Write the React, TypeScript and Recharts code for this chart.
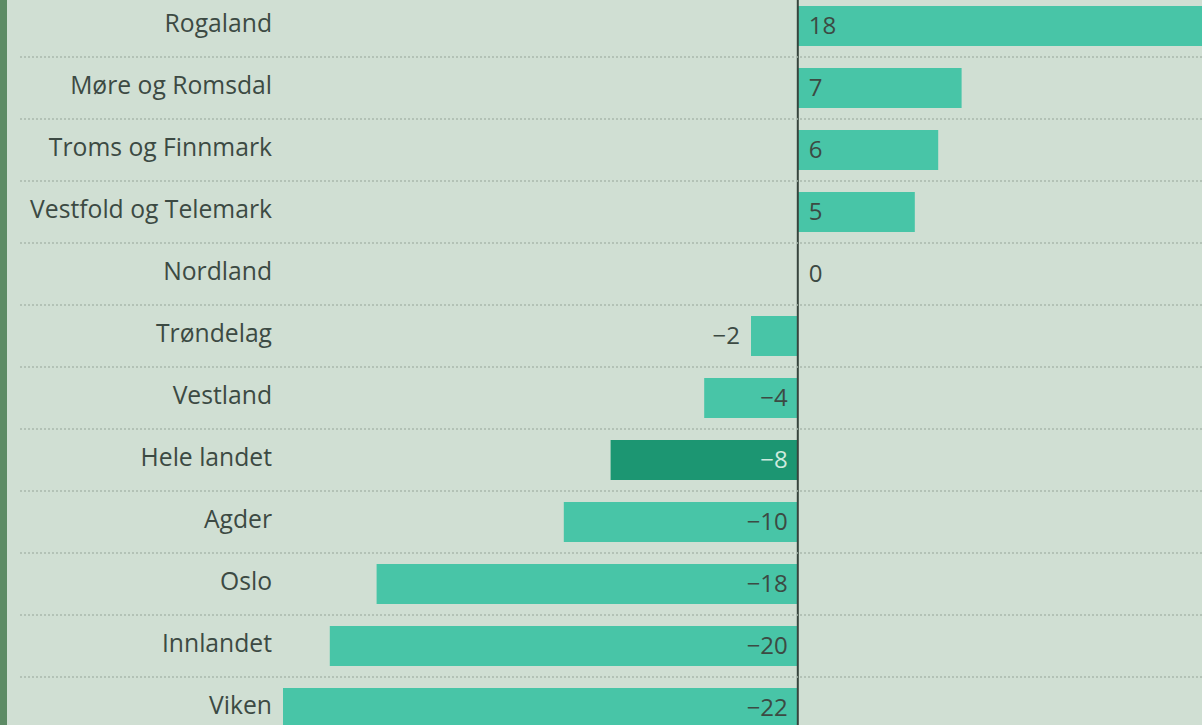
import React from "react";
import { BarChart, Bar, XAxis, YAxis, ReferenceLine } from "recharts";

const CATEGORIES = [
  "Rogaland",
  "Møre og Romsdal",
  "Troms og Finnmark",
  "Vestfold og Telemark",
  "Nordland",
  "Trøndelag",
  "Vestland",
  "Hele landet",
  "Agder",
  "Oslo",
  "Innlandet",
  "Viken",
];
const VALUES = [18, 7, 6, 5, 0, -2, -4, -8, -10, -18, -20, -22];
const HIGHLIGHT = "Hele landet";
const X_DOMAIN: [number, number] = [-22, 18];

const BG = "#d0dfd3";
const STRIP = "#5d8b65";
const BAR = "#48c5a7";
const BAR_HL = "#1c9672";
const TEXT = "#3c4a43";
const TEXT_HL = "#cdeade";
const GRID = "#a9b9ad";
const FONT = "'Open Sans', Lato, sans-serif";
const FS = 24;
const FS_CAT = 24.7;

const CHART_W = 1219;
const CHART_H = 744;
const AXIS_W = 283;
const BAR_SIZE = 40;
const ROW = CHART_H / CATEGORIES.length;

const data = CATEGORIES.map((name, i) => ({ name, value: VALUES[i] }));

const fmt = (v: number) => (v < 0 ? "\u2212" + Math.abs(v) : String(v));

const CategoryTick = (props: any) => {
  const { x, y, payload, index } = props;
  return (
    <g>
      <text
        x={x}
        y={y}
        dy={6}
        textAnchor="end"
        fill={TEXT}
        fontSize={FS_CAT}
        fontFamily={FONT}
      >
        {payload.value}
      </text>
      {index < CATEGORIES.length - 1 && (
        <line
          x1={20}
          x2={1202}
          y1={y + ROW / 2}
          y2={y + ROW / 2}
          stroke={GRID}
          strokeWidth={1.5}
          strokeDasharray="2 2"
        />
      )}
    </g>
  );
};

const BarWithLabel = (props: any) => {
  const { x, y, width, height, payload } = props;
  if (!payload) return null;
  const value: number = payload.value;
  const name: string = payload.name;
  const left = Math.min(x, x + width);
  const right = Math.max(x, x + width);
  const w = right - left;
  const cy = y + height / 2 + 8;
  const hl = name === HIGHLIGHT;
  let label;
  if (value >= 0) {
    label = (
      <text x={left + 11} y={cy} fill={TEXT} fontSize={FS} fontFamily={FONT} textAnchor="start">
        {fmt(value)}
      </text>
    );
  } else {
    const inside = w > 60;
    label = (
      <text
        x={inside ? right - 10 : left - 11}
        y={cy}
        fill={inside && hl ? TEXT_HL : TEXT}
        fontSize={FS}
        fontFamily={FONT}
        textAnchor="end"
      >
        {fmt(value)}
      </text>
    );
  }
  return (
    <g>
      {w > 0 && <rect x={left} y={y} width={w} height={height} fill={hl ? BAR_HL : BAR} />}
      {label}
    </g>
  );
};

const ZeroLine = (props: any) => {
  const { x1, x2, y1, y2 } = props;
  const off = (ROW - BAR_SIZE) / 2;
  return <line x1={x1} x2={x2} y1={y1 + off} y2={y2} stroke="#37443d" strokeWidth={2} />;
};

export default function App() {
  return (
    <div
      style={{
        position: "fixed",
        left: 0,
        top: 0,
        width: 1202,
        height: 725,
        overflow: "hidden",
        background: BG,
      }}
    >
      <div style={{ position: "absolute", left: 0, top: -5 }}>
        <BarChart
          width={CHART_W}
          height={CHART_H}
          data={data}
          layout="vertical"
          margin={{ top: 0, right: 0, bottom: 0, left: 0 }}
          barSize={BAR_SIZE}
        >
          <XAxis type="number" domain={X_DOMAIN} hide allowDataOverflow />
          <YAxis
            type="category"
            dataKey="name"
            width={AXIS_W}
            axisLine={false}
            tickLine={false}
            tickSize={0}
            tickMargin={11}
            interval={0}
            tick={<CategoryTick />}
          />
          <Bar dataKey="value" isAnimationActive={false} shape={<BarWithLabel />} />
          <ReferenceLine x={0} shape={<ZeroLine />} />
        </BarChart>
      </div>
      <div
        style={{
          position: "absolute",
          left: 0,
          top: 0,
          width: 7,
          height: 725,
          background: STRIP,
        }}
      />
    </div>
  );
}
